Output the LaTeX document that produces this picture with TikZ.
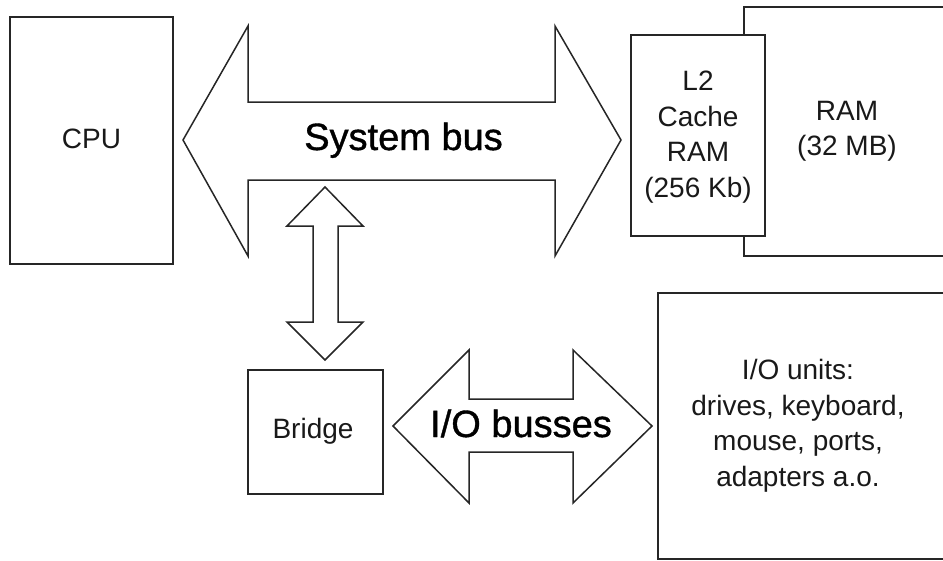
\documentclass[tikz,border=0pt]{standalone}
\usepackage{fontspec}
\setmainfont{Liberation Sans}
\newfontfamily\bigfont[FakeBold=1.0]{Liberation Sans}
\begin{document}
\begin{tikzpicture}[x=1pt,y=-1pt,
  line width=1.5pt, line join=miter,
  box/.style={draw=black!85, fill=white, rectangle, inner sep=0pt},
  fat/.style={draw=black!85, fill=white},
  small/.style={font=\fontsize{28}{35.5}\selectfont, align=center, inner sep=0pt, text=black!90},
  big/.style={font=\bigfont\fontsize{38}{45}\selectfont, inner sep=0pt}]
\useasboundingbox (0,0) rectangle (943,560);
\clip (0,0) rectangle (943,560);
% boxes
\node[box, minimum width=163pt, minimum height=247pt] (cpu) at (91.5,140.5) {};
\node[small, anchor=base] (cputext) at (91.5,148.5) {CPU};
\node[box, minimum width=206pt, minimum height=249pt] (ram) at (847,131.5) {};
\node[small] (ramtext) at (847,131.5) {RAM\\(32 MB)};
\node[box, minimum width=134pt, minimum height=201pt] (l2) at (698,135.5) {};
\node[small] (l2text) at (698,137) {L2\\Cache\\RAM\\(256 Kb)};
\node[box, minimum width=135pt, minimum height=124pt] (bridge) at (315.5,432) {};
\node[small, anchor=base] (bridgetext) at (313,438) {Bridge};
\node[box, minimum width=292pt, minimum height=266pt] (io) at (804,426) {};
\node[small] (iotext) at (798,426) {I/O units:\\drives, keyboard,\\mouse, ports,\\adapters a.o.};
% system bus
\draw[fat] (183,140) -- (248,26) -- (248,102) -- (555,102) -- (555,26) -- (621,140)
  -- (555,256) -- (555,180) -- (248,180) -- (248,256) -- cycle;
\node[big, anchor=base] (sysbus) at (403.5,150) {System bus};
% vertical arrow
\draw[fat] (325,187) -- (363,226) -- (338,226) -- (338,322) -- (363,322) -- (325,360)
  -- (287,322) -- (313,322) -- (313,226) -- (287,226) -- cycle;
% I/O busses
\draw[fat] (393,426) -- (469,350) -- (469,399) -- (573,399) -- (573,350) -- (652,426)
  -- (573,503) -- (573,452) -- (469,452) -- (469,503) -- cycle;
\node[big, anchor=base] (iobus) at (521,437) {I/O busses};
\end{tikzpicture}
\end{document}
